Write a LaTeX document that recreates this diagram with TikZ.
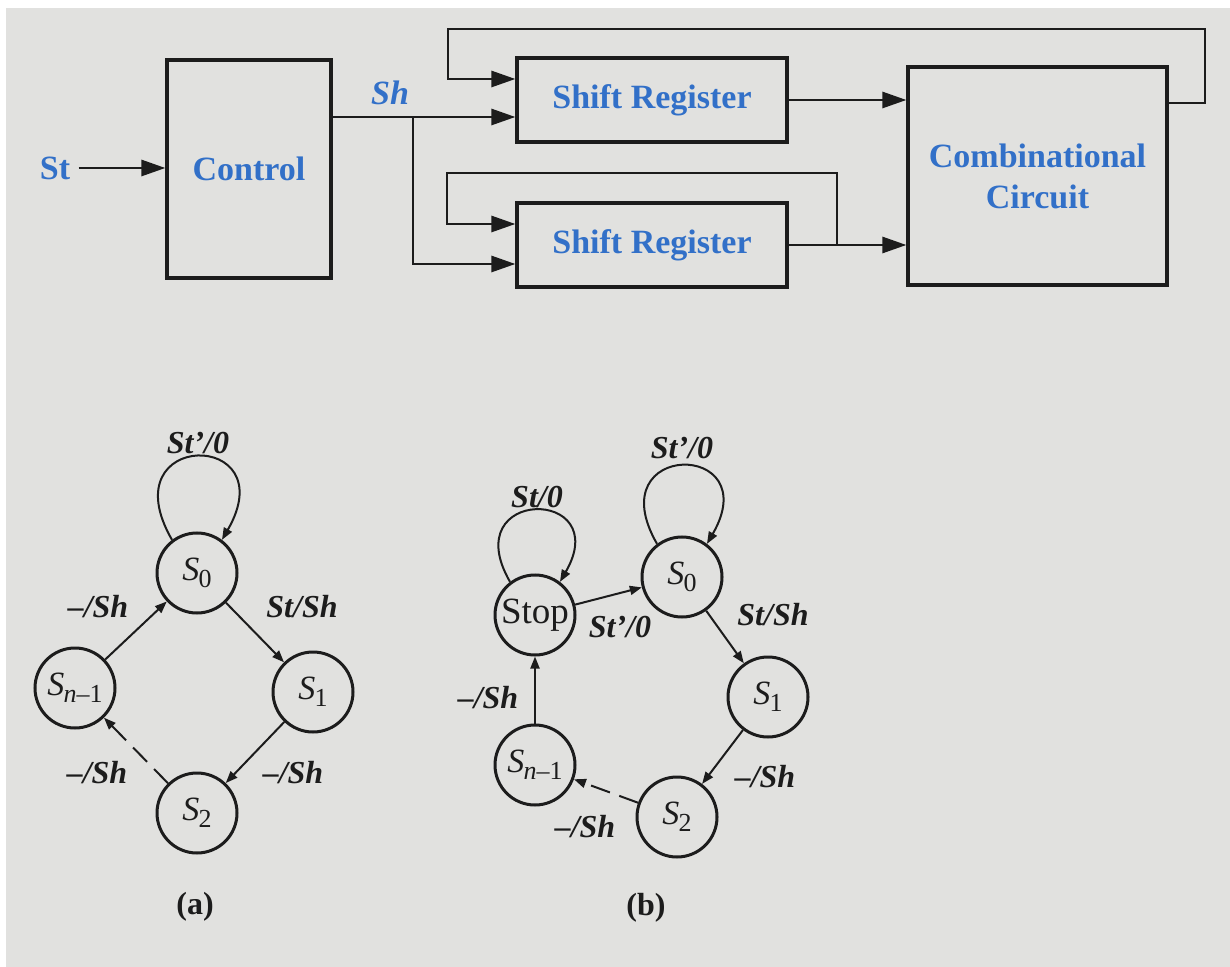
\documentclass[tikz,border=0pt]{standalone}
\usepackage{fontspec}
\setmainfont{Liberation Serif}
\usetikzlibrary{arrows.meta}
\definecolor{bgcol}{RGB}{225,225,223}
\definecolor{ink}{RGB}{28,28,28}
\definecolor{lblue}{RGB}{50,112,200}
\newcommand{\stsub}[1]{{\itshape S}\kern-0.3pt\raisebox{-3.5pt}{\fontsize{13}{13}\selectfont #1}}
\begin{document}
\begin{tikzpicture}[x=0.5pt,y=0.5pt,
 blk/.style={draw=ink, line width=1.6pt, rectangle, inner sep=0pt, text=lblue, font=\fontsize{17}{20.5}\selectfont\bfseries, align=center},
 conn/.style={draw=ink, line width=1.4pt, -{Triangle[length=12pt,width=8pt]}},
 wire/.style={draw=ink, line width=1.4pt},
 stnode/.style={circle, draw=ink, line width=1.5pt, minimum size=40pt, inner sep=0pt, text=ink, font=\fontsize{17}{20}\selectfont},
 trans/.style={draw=ink, line width=1pt, -{Triangle[length=6pt,width=4.5pt]}},
 transd/.style={trans, dash pattern=on 10pt off 5pt},
 tl/.style={text=ink, font=\fontsize{16}{18}\selectfont\bfseries\itshape, inner sep=0pt},
 capt/.style={text=ink, font=\fontsize{16}{18}\selectfont\bfseries, inner sep=0pt},
 bluelbl/.style={text=lblue, font=\fontsize{17}{20}\selectfont\bfseries, inner sep=0pt}
 ]
\fill[white] (0,0) rectangle (1230,-967);
\fill[bgcol] (6,-8) rectangle (1230,-967);
\useasboundingbox (0,0) rectangle (1230,-967);

% ---- block diagram ----
\node[blk, minimum width=82pt, minimum height=109pt] (ctrl) at (249,-169) {Control};
\node[blk, minimum width=135pt, minimum height=42pt] (sr1) at (652,-100) {Shift Register};
\node[blk, minimum width=135pt, minimum height=42pt] (sr2) at (652,-245) {Shift Register};
\node[blk, minimum width=129.5pt, minimum height=109pt] (comb) at (1037.5,-176) {Combinational\\Circuit};
\node[bluelbl] (st) at (55,-168) {St};
\node[bluelbl, font=\fontsize{17}{20}\selectfont\bfseries\itshape] (sh) at (390,-93) {Sh};

\draw[conn, shorten <=4pt] (st.east) -- (st.east -| ctrl.west);

\coordinate (shbr) at (413,-117);
\draw[wire] (shbr -| ctrl.east) -- (shbr);
\draw[conn] (shbr) -- (shbr -| sr1.west);
\draw[conn] (shbr) |- ([yshift=-9.5pt]sr2.west);

\coordinate (fbR) at (1205,-29);
\coordinate (fbL) at (448,-29);
\draw[conn] ([yshift=36.5pt]comb.east) -| (fbR) -- (fbL) |- ([yshift=10.5pt]sr1.west);

\draw[conn] (sr1.east) -- (sr1.east -| comb.west);
\draw[conn] (sr2.east) -- (sr2.east -| comb.west);
\coordinate (fb2R) at (837,-173);
\coordinate (fb2L) at (447,-173);
\draw[conn] (sr2.east -| fb2R) -- (fb2R) -- (fb2L) |- ([yshift=10.5pt]sr2.west);

% ---- state diagram (a) ----
\node[stnode] (a0) at (197,-573) {\stsub{0}};
\node[stnode] (a1) at (313,-692) {\stsub{1}};
\node[stnode] (a2) at (197,-813) {\stsub{2}};
\node[stnode] (an) at (75,-688) {\stsub{\itshape n\upshape –1}};
\draw[trans] (an) -- (a0);
\draw[trans] (a0) -- (a1);
\draw[trans] (a1) -- (a2);
\draw[transd] (a2) -- (an);
\draw[trans] (a0.127) .. controls +(120:128) and +(60:128) .. (a0.53);
\node[tl] (la0) at (198,-443) {St’/0};
\node[tl] (la1) at (98,-607) {–/Sh};
\node[tl] (la2) at (302,-607) {St/Sh};
\node[tl] (la3) at (293,-773) {–/Sh};
\node[tl] (la4) at (97,-773) {–/Sh};
\node[capt] (capa) at (195,-907) {(a)};

% ---- state diagram (b) ----
\node[stnode, font=\fontsize{18.5}{20}\selectfont] (stop) at (535,-615) {Stop};
\node[stnode] (b0) at (682,-577) {\stsub{0}};
\node[stnode] (b1) at (768,-697) {\stsub{1}};
\node[stnode] (b2) at (677,-817) {\stsub{2}};
\node[stnode] (bn) at (535,-765) {\stsub{\itshape n\upshape –1}};
\draw[trans] (stop) -- (b0);
\draw[trans] (b0) -- (b1);
\draw[trans] (b1) -- (b2);
\draw[transd] (b2) -- (bn);
\draw[trans] (bn) -- (stop);
\draw[trans] (stop.127) .. controls +(120:110) and +(60:110) .. (stop.53);
\draw[trans] (b0.127) .. controls +(120:120) and +(60:120) .. (b0.53);
\node[tl] (lb0) at (537,-497) {St/0};
\node[tl] (lb1) at (682,-448) {St’/0};
\node[tl] (lb2) at (620,-627) {St’/0};
\node[tl] (lb3) at (773,-615) {St/Sh};
\node[tl] (lb4) at (765,-777) {–/Sh};
\node[tl] (lb5) at (585,-827) {–/Sh};
\node[tl] (lb6) at (488,-698) {–/Sh};
\node[capt] (capb) at (646,-908) {(b)};
\end{tikzpicture}
\end{document}
